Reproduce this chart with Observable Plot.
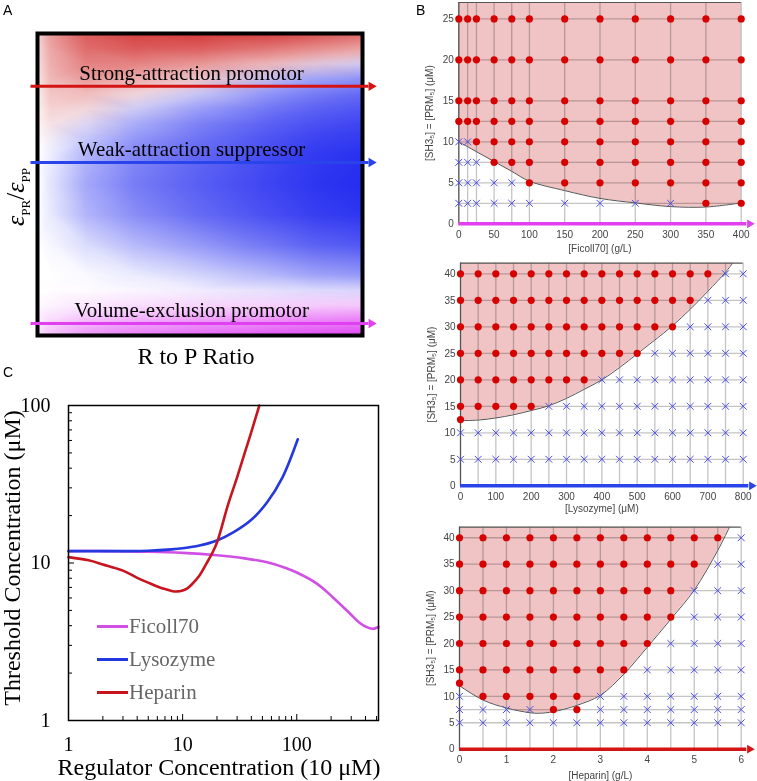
<!DOCTYPE html>
<html><head><meta charset="utf-8">
<script src="https://cdn.jsdelivr.net/npm/d3@7"></script>
<script src="https://cdn.jsdelivr.net/npm/@observablehq/plot@0.6"></script>
<style>
html,body{margin:0;padding:0;background:#fff;}
#root{position:relative;width:757px;height:781px;overflow:hidden;font-family:"Liberation Sans",Arial,sans-serif;}
#root svg{position:absolute;overflow:visible;}
</style></head><body><div id="root"></div>
<script>
// ================= Panel A (schematic heat map) =================
const aX = [0, 0.04, 0.15, 0.3, 0.5, 0.7, 0.85, 1];
const aY = [1, 0.95, 0.9, 0.85, 0.8, 0.75, 0.7, 0.65, 0.6, 0.5, 0.4, 0.3, 0.2, 0.15, 0.1, 0.05, 0];
const aRed = [
  [0.18,0.45,0.74,0.85,0.88,0.85,0.78,0.68],
  [0.16,0.40,0.66,0.74,0.72,0.62,0.52,0.42],
  [0.14,0.36,0.56,0.56,0.47,0.32,0.17,0.06],
  [0.12,0.32,0.45,0.38,0.24,0.08,0,0],
  [0.08,0.26,0.30,0.16,0.03,0,0,0],
  [0.06,0.20,0.16,0.03,0,0,0,0],
  [0.04,0.12,0.05,0,0,0,0,0],
  [0.02,0.04,0,0,0,0,0,0],
  [0,0,0,0,0,0,0,0],[0,0,0,0,0,0,0,0],[0,0,0,0,0,0,0,0],[0,0,0,0,0,0,0,0],
  [0,0,0,0,0,0,0,0],[0,0,0,0,0,0,0,0],[0,0,0,0,0,0,0,0],[0,0,0,0,0,0,0,0],[0,0,0,0,0,0,0,0]
];
const aBlue = [
  [0,0,0,0,0,0,0,0],
  [0,0,0,0,0,0,0,0],
  [0,0,0,0,0,0.03,0.12,0.20],
  [0,0,0,0,0.05,0.25,0.42,0.50],
  [0,0,0,0.04,0.25,0.48,0.60,0.68],
  [0,0,0.03,0.22,0.45,0.62,0.72,0.78],
  [0,0.02,0.15,0.38,0.58,0.72,0.80,0.85],
  [0,0.05,0.26,0.48,0.65,0.78,0.86,0.90],
  [0,0.08,0.34,0.55,0.70,0.82,0.90,0.94],
  [0,0.12,0.40,0.60,0.74,0.85,0.92,0.96],
  [0,0.10,0.34,0.52,0.68,0.80,0.88,0.92],
  [0,0.04,0.16,0.32,0.47,0.62,0.72,0.77],
  [0,0,0.03,0.09,0.20,0.32,0.42,0.47],
  [0,0,0,0.02,0.06,0.11,0.15,0.17],
  [0,0,0,0,0,0,0,0],[0,0,0,0,0,0,0,0],[0,0,0,0,0,0,0,0]
];
const aMag = [
  [0,0,0,0,0,0,0,0],[0,0,0,0,0,0,0,0],[0,0,0,0,0,0,0,0],[0,0,0,0,0,0,0,0],
  [0,0,0,0,0,0,0,0],[0,0,0,0,0,0,0,0],[0,0,0,0,0,0,0,0],[0,0,0,0,0,0,0,0],
  [0,0,0,0,0,0,0,0],[0,0,0,0,0,0,0,0],[0,0,0,0,0,0,0,0],[0,0,0,0,0,0,0,0],
  [0,0,0,0,0,0,0,0],
  [0,0.01,0.02,0.03,0.03,0.03,0.03,0.03],
  [0.03,0.06,0.12,0.16,0.20,0.22,0.25,0.27],
  [0.08,0.18,0.32,0.40,0.48,0.53,0.58,0.62],
  [0.15,0.30,0.50,0.62,0.72,0.80,0.85,0.90]
];
const aLabels = ["Strong-attraction promotor", "Weak-attraction suppressor", "Volume-exclusion promotor"];
const aLevels = [0.825, 0.573, 0.04];
const aColors = ["#d41414", "#2a44ec", "#e040f0"];

// ================= Panel B (phase diagrams) =================
const ficollX = [0, 12.5, 25, 50, 75, 100, 150, 200, 250, 300, 350, 400];
const ficollRows = [25, 20, 15, 12.5, 10, 7.5, 5, 2.5];
const ficollStates = ["oooooooooooo","oooooooooooo","oooooooooooo","oooooooooooo",
                      "xxoooooooooo","xxxooooooooo","xxxxxooooooo","xxxxxxxxxxoo"];
const ficollCurve = [[0,10],[25,8.8],[50,7.6],[75,6.4],[100,5.2],[150,4.05],[200,3.1],[250,2.55],[300,2.1],[350,2.05],[400,2.55]];

const lysoX = [0,50,100,150,200,250,300,350,400,450,500,550,600,650,700,750,800];
const lysoRows = [40, 35, 30, 25, 20, 15, 12.5, 10, 5];
const lysoStates = ["oooooooooooooooxx","ooooooooooooooxxx","oooooooooooooxxxx","oooooooooooxxxxxx",
                    "ooooooooxxxxxxxxx","oooooxxxxxxxxxxxx","o................","xxxxxxxxxxxxxxxxx","xxxxxxxxxxxxxxxxx"];
const lysoCurve = [[0,12.3],[50,12.4],[100,12.8],[150,13.4],[200,14.2],[250,15.1],[300,16.5],[350,18.2],[400,20],[450,22.3],[500,24.9],[550,27.5],[600,30.2],[650,33.3],[700,36.7],[750,40.3],[770,42]];

const hepX = [0,0.5,1,1.5,2,2.5,3,3.5,4,4.5,5,5.5,6];
const hepRows = [40, 35, 30, 25, 20, 15, 12.5, 10, 7.5, 5];
const hepStates = ["oooooooooooox","oooooooooooxx","ooooooooooxxx","ooooooooooxxx",
                   "oooooooooxxxx","ooooooooxxxxx","o............","xoooooxxxxxxx","xxxxooxxxxxxx","xxxxxxxxxxxxx"];
const hepCurve = [[0,12],[0.5,9.3],[1,7.8],[1.5,6.9],[1.7,6.8],[2,7.1],[2.5,8.3],[3,10.2],[3.5,14.2],[4,19.3],[4.5,24.6],[5,30.1],[5.5,37.6],[5.75,42]];

// ================= Panel C (threshold curves) =================
const ficollCX = [1, 2, 5, 10, 20, 35, 55, 80, 100, 150, 210, 290, 350, 400, 460, 520];
const ficollCY = [11.9, 11.9, 11.8, 11.6, 11.2, 10.7, 10.1, 9.3, 8.7, 7.4, 6.0, 4.8, 4.2, 3.95, 3.82, 3.92];
const lysoCX = [1, 3, 5, 8, 10, 14, 20, 28, 40, 55, 75, 102];
const lysoCY = [11.9, 11.9, 11.95, 12.2, 12.4, 12.9, 13.9, 15.7, 18.8, 24.3, 35, 61];
const hepCX = [1, 1.5, 2, 3, 4, 5, 6, 7, 8, 9, 10, 11, 12, 14, 16, 18, 20, 25, 30, 35, 40, 47];
const hepCY = [10.9, 10.4, 9.8, 8.95, 8.05, 7.5, 7.1, 6.83, 6.65, 6.6, 6.7, 6.9, 7.3, 8.3, 9.8, 11.4, 13.5, 23.5, 35, 50, 68, 100];
const cNames = ["Ficoll70", "Lysozyme", "Heparin"];
const cColors = ["#d24fe6", "#2438e0", "#c8141e"];
const cMajor = [1, 10, 100];
const cMinorX = [2,3,4,5,6,7,8,9,20,30,40,50,60,70,80,90,200,300,400,500];
const cMinorY = [2,3,4,5,6,7,8,9,20,30,40,50,60,70,80,90];

// ================= helpers =================
const root = document.getElementById("root");
function put(svg, left, top) { svg.style.left = left + "px"; svg.style.top = top + "px"; root.appendChild(svg); }
function addText(html, left, top, css) {
  const d = document.createElement("div");
  d.innerHTML = html;
  d.style.cssText = `position:absolute;left:${left}px;top:${top}px;white-space:nowrap;line-height:1;` + css;
  root.appendChild(d); return d;
}

// ---------- Panel A ----------
const aPts = [];
aY.forEach((y, i) => aX.forEach((x, j) => aPts.push({x, y, r: aRed[i][j], b: aBlue[i][j], m: aMag[i][j]})));
const aArrows = aLabels.map((label, i) => ({label, level: aLevels[i], color: aColors[i]}));
const layer = (key, color) => Plot.raster(aPts, {x: "x", y: "y", fill: color, fillOpacity: key, interpolate: "barycentric"});
const plotA = Plot.plot({
  width: 400, height: 345, marginLeft: 37, marginRight: 38, marginTop: 33, marginBottom: 10,
  x: {domain: [0, 1], axis: null}, y: {domain: [0, 1], axis: null},
  opacity: {type: "linear", domain: [0, 1], range: [0, 1]},
  color: {type: "identity"},
  style: {background: "transparent", fontFamily: "Liberation Serif", color: "black"},
  marks: [
    layer("b", "#1c24ef"), layer("r", "#cf2020"), layer("m", "#dc30f2"),
    Plot.frame({stroke: "black", strokeWidth: 4}),
    Plot.ruleY(aArrows, {y: "level", x1: -0.02, x2: 1.02, stroke: "color", strokeWidth: 3}),
    Plot.dot(aArrows, {x: 1.027, y: "level", symbol: "triangle2", rotate: 90, r: 4.5, fill: "color", stroke: null}),
    Plot.text(aArrows, {x: 0.474, y: "level", text: "label", fontSize: 20.9, lineAnchor: "bottom", dy: -6, fill: "black"})
  ]
});
put(plotA, 0, 0);
addText("A", 3, 3, "font-size:14px;");
addText("R to P Ratio", 196, 356, "font-family:'Liberation Serif';font-size:24px;transform:translate(-50%,-50%);");
addText("<i>ε</i><sub style='font-size:13px;font-style:normal'>PR</sub>/<i>ε</i><sub style='font-size:13px'>PP</sub>", 18, 197,
  "font-family:'Liberation Serif';font-size:26px;line-height:0.9;transform:translate(-50%,-50%) rotate(-90deg);");

// ---------- Panel B ----------
function panelB(o) {
  const red = [], blue = [];
  o.rows.forEach((y, i) => [...o.states[i]].forEach((c, j) => {
    if (c === "o") red.push({x: o.xs[j], y});
    else if (c === "x") blue.push({x: o.xs[j], y});
  }));
  const gridRows = o.rows.filter((y, i) => !o.states[i].includes("."));
  return Plot.plot({
    width: 357, height: o.height, marginLeft: o.ml, marginRight: 357 - o.ml - o.pw, marginTop: o.mt, marginBottom: o.mb,
    x: {domain: [0, o.xMax]}, y: {domain: [0, o.yMax]},
    style: {background: "transparent", fontFamily: "Liberation Sans", fontSize: "10px", color: "#444"},
    marks: [
      Plot.areaY(o.curve, {x: d => d[0], y1: d => d[1], y2: o.yMax, fill: "#f0c4c4", curve: "catmull-rom"}),
      Plot.ruleX(o.xs, {stroke: "#c4c4c4", strokeWidth: 1.3, mixBlendMode: "multiply"}),
      Plot.ruleY(gridRows, {stroke: "#c4c4c4", strokeWidth: 1.3, mixBlendMode: "multiply"}),
      Plot.line(o.curve, {x: d => d[0], y: d => d[1], stroke: "#555", strokeWidth: 1, curve: "catmull-rom"}),
      Plot.ruleX([0], {stroke: "#555", strokeWidth: 1.2}),
      Plot.ruleY([o.yMax], {stroke: "#555", strokeWidth: 1.2}),
      Plot.dot(red, {x: "x", y: "y", r: 3.6, fill: "#d60000", stroke: null}),
      Plot.dot(blue, {x: "x", y: "y", symbol: "times", r: 3.2, stroke: "#4b4bea", strokeWidth: 1}),
      Plot.ruleY([0], {x1: 0, x2: o.arrowEnd, stroke: o.arrowColor, strokeWidth: 3.5}),
      Plot.dot([0], {x: o.headX, y: 0, symbol: "triangle2", rotate: 90, r: 4.2, fill: o.arrowColor, stroke: null}),
      Plot.axisY(o.yTicks, {tickSize: 0, tickPadding: 5, label: "[SH3₅] = [PRM₅] (μM)", labelAnchor: "center", labelArrow: "none", labelOffset: 33}),
      Plot.axisX(o.xTicks, {tickSize: 0, tickPadding: 7, label: o.xLabel, labelAnchor: "center", labelArrow: "none", labelOffset: o.lo})
    ]
  });
}
put(panelB({xs: ficollX, rows: ficollRows, states: ficollStates, curve: ficollCurve, xMax: 400, yMax: 27,
  xTicks: [0,50,100,150,200,250,300,350,400], yTicks: [0,5,10,15,20,25], xLabel: "[Ficoll70] (g/L)", lo: 28,
  arrowColor: "#e040f0", arrowEnd: 408, headX: 412, height: 256, mt: 2, mb: 32.7, ml: 58.3, pw: 282.4}), 400, 0);
put(panelB({xs: lysoX, rows: lysoRows, states: lysoStates, curve: lysoCurve, xMax: 800, yMax: 42,
  xTicks: [0,100,200,300,400,500,600,700,800], yTicks: [0,5,10,15,20,25,30,35,40], xLabel: "[Lysozyme] (μM)", lo: 26,
  arrowColor: "#2a44ec", arrowEnd: 816, headX: 824, height: 260, mt: 7.7, mb: 29.7, ml: 60, pw: 282.7}), 400, 255);
put(panelB({xs: hepX, rows: hepRows, states: hepStates, curve: hepCurve, xMax: 6, yMax: 42,
  xTicks: [0,1,2,3,4,5,6], yTicks: [0,5,10,15,20,25,30,35,40], xLabel: "[Heparin] (g/L)", lo: 29.5,
  arrowColor: "#d41414", arrowEnd: 6.12, headX: 6.18, height: 263, mt: 8.7, mb: 32.3, ml: 59, pw: 281.7}), 400, 518);
addText("B", 416, 3, "font-size:14px;");

// ---------- Panel C ----------
const cSeries = [
  ficollCX.map((x, i) => ({x, y: ficollCY[i]})),
  lysoCX.map((x, i) => ({x, y: lysoCY[i]})),
  hepCX.map((x, i) => ({x, y: hepCY[i]}))
];
const plotC = Plot.plot({
  width: 390, height: 411, marginLeft: 68, marginRight: 12, marginTop: 35, marginBottom: 61,
  x: {type: "log", domain: [1, 520]}, y: {type: "log", domain: [1, 100]},
  style: {background: "transparent", fontFamily: "Liberation Serif", fontSize: "20px", color: "black"},
  marks: [
    ...cSeries.map((s, i) => Plot.line(s, {x: "x", y: "y", stroke: cColors[i], strokeWidth: 2.6, curve: "catmull-rom"})),
    Plot.axisX(cMinorX, {tickSize: 4, dy: -4, tickFormat: () => "", label: null}),
    Plot.axisX(cMajor, {tickSize: 6, dy: -6, tickFormat: () => "", label: null}),
    Plot.axisX(cMajor, {tickSize: 0, tickPadding: 16, tickFormat: d => String(d), label: null}),
    Plot.axisY(cMinorY, {tickSize: 4, dx: 4, tickFormat: () => "", label: null}),
    Plot.axisY(cMajor, {tickSize: 6, dx: 6, tickFormat: () => "", label: null}),
    Plot.axisY(cMajor, {tickSize: 0, tickPadding: 18, tickFormat: d => String(d), label: null}),
    Plot.frame({stroke: "black", strokeWidth: 1.5})
  ]
});
put(plotC, 0, 370);
addText("C", 3, 365, "font-size:14px;");
addText("Regulator Concentration (10 μM)", 219, 767, "font-family:'Liberation Serif';font-size:24px;line-height:0.7;transform:translate(-50%,-50%);");
addText("Threshold Concentration (μM)", 12, 558, "font-family:'Liberation Serif';font-size:24px;transform:translate(-50%,-50%) rotate(-90deg);");
cNames.forEach((name, i) => {
  const top = 626 + i * 33.2;
  const ln = document.createElement("div");
  ln.style.cssText = `position:absolute;left:97px;top:${top - 1.5}px;width:31px;height:3px;background:${cColors[i]};`;
  root.appendChild(ln);
  addText(name, 129, top, "font-family:'Liberation Serif';font-size:21px;color:#666;transform:translateY(-50%);");
});
</script></body></html>
